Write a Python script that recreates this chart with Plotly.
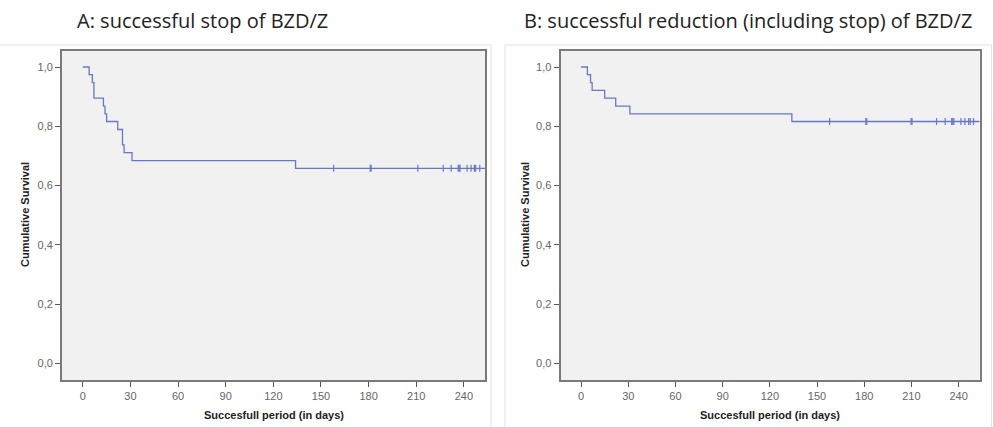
import plotly.graph_objects as go

# ---- data ----
# Panel A: successful stop of BZD/Z (Kaplan-Meier steps)
a_step_days = [0, 4, 6, 7, 13, 14, 15, 22, 25, 26, 31, 134]
a_step_surv = [1.0, 0.974, 0.947, 0.895, 0.868, 0.842, 0.816, 0.789, 0.737, 0.711, 0.684, 0.658]
a_censor_days = [158, 181, 181.6, 211, 227, 232, 236.4, 237, 237.6, 242, 244.5, 246.6, 247.4, 250]
a_followup_end = 262

# Panel B: successful reduction (including stop) of BZD/Z
b_step_days = [0, 4, 6, 7, 15, 22, 31, 134]
b_step_surv = [1.0, 0.974, 0.947, 0.921, 0.895, 0.868, 0.842, 0.816]
b_censor_days = [158, 181, 181.6, 209.8, 210.4, 226, 231.5, 235.6, 236.3, 237, 241.5, 244, 246.4, 247.4, 249.5]
b_followup_end = 262

y_ticks = [0.0, 0.2, 0.4, 0.6, 0.8, 1.0]
x_ticks = [0, 30, 60, 90, 120, 150, 180, 210, 240]

titles = ["A: successful stop of BZD/Z", "B: successful reduction (including stop) of BZD/Z"]
x_title = "Succesfull period (in days)"
y_title = "Cumulative Survival"

LINE = "#6878c6"
W, H = 993, 427


def surv_at(days, survs, t):
    s = survs[0]
    for d, v in zip(days, survs):
        if t >= d:
            s = v
    return s


fig = go.Figure()

panels = [
    (a_step_days, a_step_surv, a_censor_days, a_followup_end, "x", "y"),
    (b_step_days, b_step_surv, b_censor_days, b_followup_end, "x2", "y2"),
]
for days, survs, cens, end, xa, ya in panels:
    xs = list(days) + [end]
    ys = list(survs) + [survs[-1]]
    fig.add_trace(go.Scatter(x=xs, y=ys, mode="lines", line=dict(color=LINE, width=1.3, shape="hv"),
                             xaxis=xa, yaxis=ya, showlegend=False, hoverinfo="skip"))
    fig.add_trace(go.Scatter(x=cens, y=[surv_at(days, survs, c) for c in cens], mode="markers",
                             marker=dict(symbol="line-ns", size=5, line=dict(color=LINE, width=1.2)),
                             xaxis=xa, yaxis=ya, showlegend=False, hoverinfo="skip"))


def px_x(p):
    return p / W


def px_y(p):
    return 1 - p / H


y_dom = [px_y(380), px_y(51)]
common_x = dict(range=[-13.1, 253.3], tickmode="array", tickvals=x_ticks, ticks="outside", ticklen=5,
                tickcolor="#555", tickwidth=1, showgrid=False, zeroline=False, showline=True,
                linecolor="#7a7a7a", linewidth=1.8, mirror=True,
                tickfont=dict(family="Arial", size=11, color="#666"))
common_y = dict(range=[-0.0564, 1.054], tickmode="array", tickvals=y_ticks, tickformat=".1f", ticks="outside",
                ticklen=5, tickcolor="#555", tickwidth=1, showgrid=False, zeroline=False, showline=True,
                linecolor="#7a7a7a", linewidth=1.8, mirror=True, domain=y_dom,
                tickfont=dict(family="Arial", size=11, color="#666"))

fig.update_layout(
    width=W, height=H, margin=dict(l=0, r=0, t=0, b=0),
    paper_bgcolor="white", plot_bgcolor="#f1f1f1", separators=",.",
    xaxis=dict(common_x, domain=[px_x(62), px_x(485)], anchor="y"),
    yaxis=dict(common_y, anchor="x"),
    xaxis2=dict(common_x, domain=[px_x(560.5), px_x(979.5)], anchor="y2"),
    yaxis2=dict(common_y, anchor="x2"),
)

# outer light frames of the two SPSS charts
fig.add_shape(type="rect", xref="paper", yref="paper", x0=px_x(-2), x1=px_x(491), y0=px_y(440), y1=px_y(45),
              line=dict(color="#e2e2e2", width=1), fillcolor="rgba(0,0,0,0)", layer="below")
fig.add_shape(type="rect", xref="paper", yref="paper", x0=px_x(505), x1=px_x(991.5), y0=px_y(440), y1=px_y(45),
              line=dict(color="#e2e2e2", width=1), fillcolor="rgba(0,0,0,0)", layer="below")

# panel titles
for cx, t in [(202, titles[0]), (747.5, titles[1])]:
    fig.add_annotation(x=px_x(cx), y=px_y(20), xref="paper", yref="paper", text=t, showarrow=False,
                       xanchor="center", yanchor="middle", font=dict(family="Open Sans", size=20, color="#222"))

# axis titles
for cx in [(62 + 485) / 2, (560.5 + 979.5) / 2]:
    fig.add_annotation(x=px_x(cx), y=px_y(415), xref="paper", yref="paper", text="<b>" + x_title + "</b>",
                       showarrow=False, xanchor="center", yanchor="middle",
                       font=dict(family="Arial", size=11, color="#222"))
for cx in [25, 525]:
    fig.add_annotation(x=px_x(cx), y=px_y(215), xref="paper", yref="paper", text="<b>" + y_title + "</b>",
                       showarrow=False, xanchor="center", yanchor="middle", textangle=-90,
                       font=dict(family="Arial", size=11, color="#222"))

fig.write_html("out.html")
